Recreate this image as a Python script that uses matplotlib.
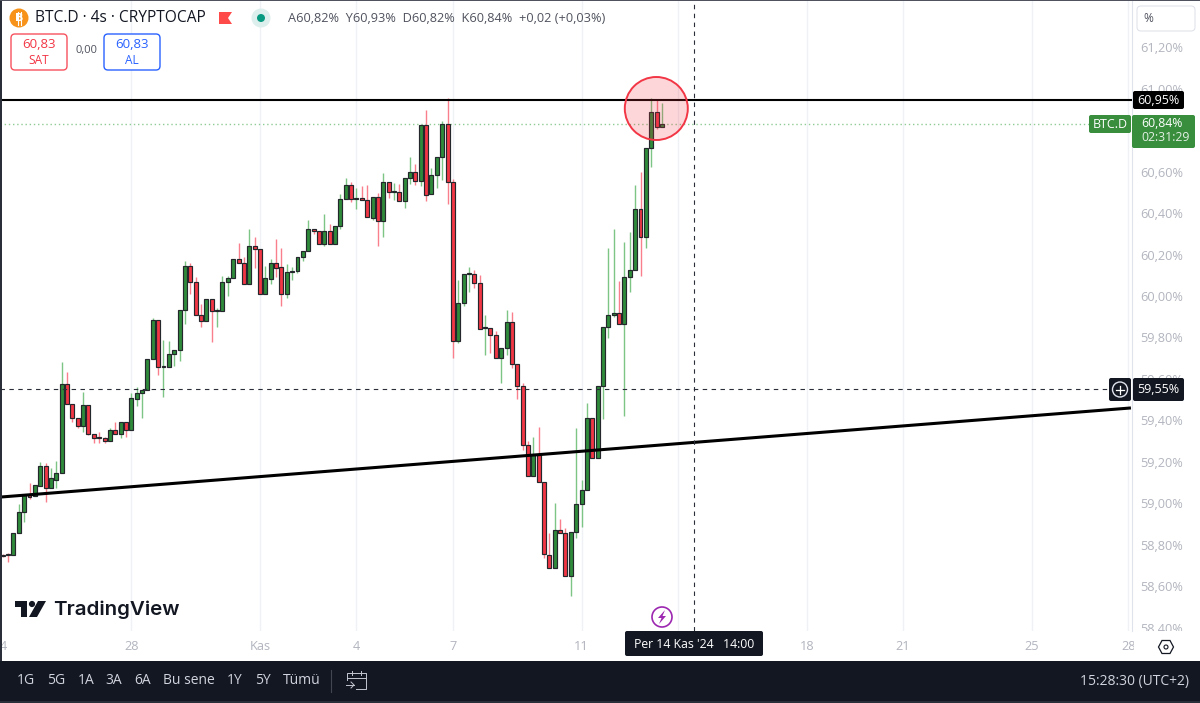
import matplotlib
matplotlib.use("Agg")
import matplotlib.pyplot as plt
from matplotlib.patches import Rectangle, Circle, Polygon, FancyBboxPatch

plt.rcParams['font.family'] = ['Open Sans', 'DejaVu Sans']

# 4h candles
opens = [58.750, 58.755, 58.750, 58.856, 58.958, 59.040, 59.035, 59.083, 59.180, 59.074,
         59.112, 59.146, 59.575, 59.479, 59.411, 59.373, 59.474, 59.334, 59.320, 59.315,
         59.300, 59.353, 59.334, 59.392, 59.353, 59.503, 59.532, 59.546, 59.696, 59.884,
         59.657, 59.657, 59.720, 59.739, 59.932, 60.145, 60.068, 59.908, 59.879, 59.986,
         59.928, 59.928, 60.068, 60.087, 60.179, 60.159, 60.058, 60.241, 60.227, 60.010,
         60.082, 60.159, 60.140, 60.010, 60.116, 60.121, 60.188, 60.217, 60.323, 60.314,
         60.251, 60.314, 60.251, 60.338, 60.468, 60.536, 60.468, 60.473, 60.463, 60.376,
         60.478, 60.362, 60.550, 60.500, 60.502, 60.458, 60.569, 60.598, 60.555, 60.825,
         60.492, 60.584, 60.671, 60.830, 60.550, 59.783, 59.966, 60.106, 60.106, 60.063,
         59.846, 59.846, 59.812, 59.701, 59.749, 59.875, 59.672, 59.566, 59.281, 59.132,
         59.233, 59.103, 58.750, 58.688, 58.871, 58.856, 58.649, 58.861, 58.996, 59.064,
         59.411, 59.218, 59.566, 59.850, 59.908, 59.918, 59.865, 60.092, 60.125, 60.420,
         60.285, 60.714, 60.888, 60.815]
highs = [58.755, 58.760, 58.856, 58.996, 59.040, 59.098, 59.088, 59.199, 59.194, 59.170,
         59.204, 59.682, 59.633, 59.479, 59.411, 59.537, 59.474, 59.334, 59.344, 59.320,
         59.363, 59.392, 59.392, 59.392, 59.532, 59.561, 59.546, 59.696, 59.894, 59.884,
         59.788, 59.783, 59.739, 59.932, 60.169, 60.159, 60.092, 59.961, 59.986, 59.986,
         59.942, 60.097, 60.097, 60.179, 60.256, 60.188, 60.323, 60.285, 60.227, 60.145,
         60.179, 60.275, 60.232, 60.154, 60.140, 60.188, 60.217, 60.367, 60.323, 60.314,
         60.396, 60.347, 60.338, 60.492, 60.569, 60.550, 60.521, 60.531, 60.536, 60.478,
         60.497, 60.593, 60.550, 60.545, 60.540, 60.569, 60.671, 60.637, 60.825, 60.897,
         60.618, 60.671, 60.844, 60.955, 60.565, 60.077, 60.106, 60.140, 60.125, 60.101,
         59.908, 59.846, 59.831, 59.749, 59.932, 59.923, 59.672, 59.580, 59.300, 59.320,
         59.368, 59.103, 58.856, 59.001, 58.924, 58.881, 58.861, 59.363, 59.112, 59.484,
         59.411, 59.566, 59.850, 60.232, 60.323, 60.072, 60.261, 60.309, 60.536, 60.598,
         60.714, 60.955, 60.951, 60.931]
lows = [58.740, 58.717, 58.750, 58.856, 58.910, 59.021, 59.035, 59.083, 59.006, 59.074,
        59.074, 59.146, 59.479, 59.392, 59.363, 59.344, 59.329, 59.291, 59.291, 59.291,
        59.300, 59.334, 59.315, 59.320, 59.353, 59.469, 59.411, 59.546, 59.696, 59.619,
        59.513, 59.657, 59.662, 59.686, 59.865, 60.010, 59.908, 59.850, 59.879, 59.778,
        59.850, 59.928, 60.000, 60.087, 60.159, 60.058, 60.058, 60.135, 60.010, 60.010,
        60.058, 60.092, 59.952, 59.990, 60.077, 60.111, 60.169, 60.217, 60.299, 60.251,
        60.241, 60.251, 60.251, 60.323, 60.468, 60.454, 60.420, 60.463, 60.381, 60.367,
        60.241, 60.285, 60.473, 60.463, 60.458, 60.425, 60.540, 60.536, 60.531, 60.458,
        60.492, 60.521, 60.560, 60.444, 59.701, 59.773, 59.952, 60.019, 60.039, 59.841,
        59.715, 59.725, 59.701, 59.580, 59.715, 59.653, 59.503, 59.257, 59.132, 59.132,
        59.103, 58.736, 58.688, 58.688, 58.856, 58.649, 58.553, 58.832, 58.885, 59.064,
        59.218, 59.218, 59.407, 59.797, 59.900, 59.865, 59.421, 60.019, 60.125, 60.097,
        60.232, 60.622, 60.806, 60.815]
closes = [58.745, 58.750, 58.856, 58.958, 59.040, 59.030, 59.088, 59.180, 59.074, 59.122,
          59.146, 59.575, 59.479, 59.411, 59.373, 59.474, 59.334, 59.315, 59.315, 59.300,
          59.353, 59.334, 59.392, 59.353, 59.508, 59.532, 59.546, 59.696, 59.884, 59.657,
          59.660, 59.720, 59.739, 59.932, 60.145, 60.068, 59.908, 59.879, 59.986, 59.928,
          59.932, 60.068, 60.087, 60.179, 60.159, 60.058, 60.241, 60.227, 60.010, 60.087,
          60.159, 60.135, 60.010, 60.116, 60.121, 60.188, 60.217, 60.323, 60.314, 60.251,
          60.314, 60.251, 60.338, 60.468, 60.536, 60.468, 60.473, 60.463, 60.381, 60.478,
          60.362, 60.550, 60.502, 60.505, 60.458, 60.569, 60.598, 60.555, 60.825, 60.487,
          60.584, 60.671, 60.830, 60.550, 59.783, 59.966, 60.106, 60.110, 60.063, 59.841,
          59.850, 59.812, 59.701, 59.749, 59.875, 59.672, 59.566, 59.281, 59.132, 59.233,
          59.103, 58.755, 58.688, 58.871, 58.856, 58.649, 58.861, 58.996, 59.064, 59.411,
          59.218, 59.566, 59.850, 59.908, 59.920, 59.865, 60.092, 60.125, 60.420, 60.285,
          60.714, 60.888, 60.815, 60.830]

# 60,80 sits behind the green price box and 14 behind the crosshair date box
price_ticks = [58.4, 58.6, 58.8, 59.0, 59.2, 59.4, 59.6, 59.8, 60.0, 60.2, 60.4, 60.6, 61.0, 61.2]
date_pos = [0.15, 24, 48, 66, 84, 108, 150, 168, 192, 210]
date_labels = ['4', '28', 'Kas', '4', '7', '11', '18', '21', '25', '28']
grid_pos = [24, 48, 66, 84, 108, 126, 150, 168, 192, 210]

resistance = 60.945
last_price = 60.83
cross_price = 59.55
cross_bar = 129
trend_x = [-0.5, 210.5]
trend_y = [59.03, 59.46]

range_buttons = [(26, '1G'), (56, '5G'), (86, '1A'), (114, '3A'), (143, '6A'),
                 (189, 'Bu sene'), (235, '1Y'), (263, '5Y'), (302, 'Tümü')]

UP = '#2e8b3a'
DOWN = '#f23645'
UP_WICK = '#7cc585'
DOWN_WICK = '#f87f8b'
DARK = '#131722'
AXIS_TEXT = '#b2b5be'

fig = plt.figure(figsize=(12, 7.03), dpi=100)
fig.patch.set_facecolor('white')

# price pane, 5.36 px per bar
ax = fig.add_axes([0, (703 - 631) / 703, 1132 / 1200, 631 / 703])
ax.set_xlim(-0.504, 210.7)
ax.set_ylim(58.384, 61.428)
for name in ['top', 'left', 'bottom']:
    ax.spines[name].set_visible(False)
ax.spines['right'].set_color('#e0e3eb')
ax.spines['right'].set_linewidth(0.8)

ax.yaxis.tick_right()
ax.set_yticks(price_ticks)
ax.set_yticklabels([f'{p:.2f}%'.replace('.', ',') for p in price_ticks])
ax.tick_params(axis='y', length=0, pad=6, labelsize=9.2, labelcolor=AXIS_TEXT)
ax.set_xticks(date_pos)
ax.set_xticklabels(date_labels)
ax.tick_params(axis='x', length=0, pad=6.5, labelsize=9.2, labelcolor=AXIS_TEXT)
ax.vlines(grid_pos, 58.384, 61.428, color='#eff1f5', linewidth=1.0, zorder=1)

ax.axhline(last_price, color='#8fcb94', linewidth=1.0, linestyle=(0, (1, 2)), zorder=1.5)

for i in range(len(opens)):
    up = closes[i] >= opens[i]
    ax.vlines(i, lows[i], highs[i], color=UP_WICK if up else DOWN_WICK, linewidth=1.0, zorder=2)
    ax.bar(i, abs(closes[i] - opens[i]), bottom=min(opens[i], closes[i]), width=0.74,
           color=UP if up else DOWN, edgecolor='#24272c', linewidth=0.85, zorder=3)

ax.axhline(resistance, color='black', linewidth=1.5, zorder=4)
ax.plot(trend_x, trend_y, color='black', linewidth=2.2, zorder=4, solid_capstyle='butt')
ax.plot([-0.5, 206], [cross_price, cross_price], color='#2a2e39', linewidth=0.8, linestyle=(0, (4, 4)), zorder=4)
ax.axvline(cross_bar, color='#2a2e39', linewidth=0.8, linestyle=(0, (4, 4)), zorder=4)

# overlay in screen pixels for the tradingview chrome
ui = fig.add_axes([0, 0, 1, 1], facecolor='none')
ui.set_xlim(0, 1200)
ui.set_ylim(703, 0)
ui.axis('off')


def box(x0, y0, x1, y1, fc, ec='none', r=2, lw=1.0):
    ui.add_patch(FancyBboxPatch((x0 + r, y0 + r), x1 - x0 - 2 * r, y1 - y0 - 2 * r,
                                boxstyle=f'round,pad={r},rounding_size={r}',
                                facecolor=fc, edgecolor=ec, linewidth=lw))


def label(x, y, s, color=DARK, size=9.5, ha='center', **kw):
    ui.text(x, y, s, color=color, fontsize=size, ha=ha, va='center', **kw)


# red circle around the top
ui.add_patch(Circle((656.3, 108.5), 31.5, facecolor=(0.95, 0.21, 0.27, 0.2),
                    edgecolor='#f23645', linewidth=1.4))

# frame
ui.add_patch(Rectangle((0, 0), 2.3, 661, facecolor='#2a2e39'))
ui.add_patch(Rectangle((0, 0), 1200, 1, facecolor='#50535e'))
ui.add_patch(Rectangle((1134, 631), 66, 30, facecolor='white'))

# header, the bitcoin sign is in no installed font so a B with two small strokes
ui.add_patch(Circle((19, 18), 9.5, facecolor='#f7931a'))
label(19, 18, 'B', color='white', size=8, family='DejaVu Sans', fontweight='bold')
ui.plot([18, 18], [11.5, 24.5], color='white', linewidth=0.8)
ui.plot([21, 21], [11.5, 24.5], color='white', linewidth=0.8)
label(35, 18, 'BTC.D · 4s · CRYPTOCAP', size=11.2, ha='left')
ui.add_patch(Polygon([(219, 12), (232, 12), (228, 18), (232, 24), (219, 24)], facecolor='#ff4a4a'))
ui.add_patch(Circle((261, 18), 9.5, facecolor='#dcefec'))
ui.add_patch(Circle((261, 18), 4, facecolor='#089981'))
label(288, 18, 'A60,82%  Y60,93%  D60,82%  K60,84%  +0,02 (+0,03%)', color='#50535e', size=9.2, ha='left')

box(11, 34, 67, 70, 'white', ec='#f7525f', r=4)
label(39, 45, '60,83', color=DOWN, size=9.5)
label(39, 60, 'SAT', color=DOWN, size=8.6)
label(86, 51, '0,00', color='#50535e', size=8)
box(104, 34, 160, 70, 'white', ec='#2962ff', r=4)
label(132, 45, '60,83', color='#2962ff', size=9.5)
label(132, 60, 'AL', color='#2962ff', size=8.6)

# logo
ui.add_patch(Polygon([(15, 601), (27, 601), (27, 617), (21, 617), (21, 607), (15, 607)], facecolor=DARK))
ui.add_patch(Circle((32, 604), 3.1, facecolor=DARK))
ui.add_patch(Polygon([(38, 601), (46, 601), (37, 617), (29, 617)], facecolor=DARK))
label(53, 609.5, 'TradingView', size=14.8, ha='left', family='Inter', fontweight='semibold')

# lightning marker
ui.add_patch(Circle((662, 617), 10, facecolor='white', edgecolor='#9c27b0', linewidth=1.2))
ui.add_patch(Polygon([(665, 610), (658, 618), (661.5, 618), (659, 624), (666, 616), (662.5, 616)], facecolor='#9c27b0'))

# right scale labels
box(1137, 6, 1195, 31, 'white', ec='#e0e3eb', r=4, lw=0.8)
label(1143, 19, '%', color='#50535e', size=8.6, ha='left')
box(1133, 91, 1184, 109, 'black')
label(1158, 100, '60,95%', color='white', size=9)
box(1089, 115, 1131, 133, '#388e3c')
label(1110, 124, 'BTC.D', color='white', size=9)
box(1132, 115, 1195, 148, '#388e3c')
label(1141, 123.5, '60,84%', color='white', size=8.8, ha='left')
label(1141, 137.5, '02:31:29', color='#e4efe5', size=8.8, ha='left')
box(1109, 378, 1131, 401, DARK)
ui.add_patch(Circle((1120, 389.5), 7.5, facecolor='none', edgecolor='#e0e3eb', linewidth=1))
ui.plot([1116, 1124], [389.5, 389.5], color='white', linewidth=0.9)
ui.plot([1120, 1120], [385.5, 393.5], color='white', linewidth=0.9)
box(1133, 378, 1184, 401, DARK)
label(1158, 389.5, '59,55%', color='white', size=9)

# crosshair date and gear
box(625, 631, 763, 656, DARK)
label(694, 645, "Per 14 Kas '24   14:00", color='white', size=8.8)
ui.add_patch(Polygon([(1158.5, 647), (1162, 640.5), (1170, 640.5), (1173.5, 647), (1170, 653.5), (1162, 653.5)],
                     facecolor='white', edgecolor=DARK, linewidth=0.9))
ui.add_patch(Circle((1166, 647), 2, facecolor='white', edgecolor=DARK, linewidth=0.8))

# bottom bar
ui.add_patch(Rectangle((0, 661), 1200, 42, facecolor=DARK))
ui.add_patch(Rectangle((0, 700.5), 1200, 2.5, facecolor='#2a2e39'))
for x, s in range_buttons:
    label(x, 681, s, color='#d1d4dc', size=10)
ui.plot([331, 331], [670, 692], color='#434651', linewidth=0.8)
label(1189, 681, '15:28:30 (UTC+2)', color='#d1d4dc', size=10, ha='right')
ui.plot([347, 347, 366, 366, 356], [680, 673, 673, 689, 689], color='#c3c6ce', linewidth=0.7)
ui.plot([347, 366], [678, 678], color='#c3c6ce', linewidth=0.7)
ui.plot([352, 352], [671, 675], color='#c3c6ce', linewidth=0.7)
ui.plot([361, 361], [671, 675], color='#c3c6ce', linewidth=0.7)
ui.plot([346, 354], [685, 685], color='#c3c6ce', linewidth=0.7)
ui.plot([351, 354, 351], [682, 685, 688], color='#c3c6ce', linewidth=0.7)

fig.savefig('out.png', dpi=100)
